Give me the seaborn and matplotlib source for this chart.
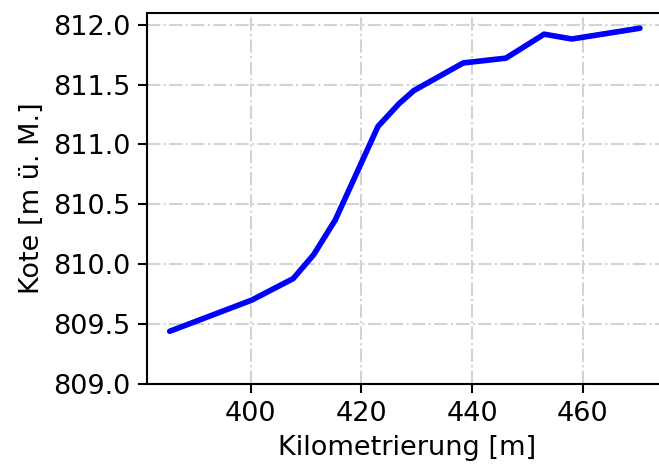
import matplotlib
matplotlib.use("Agg")
import matplotlib.pyplot as plt
import seaborn as sns
import pandas as pd

# Längsprofil: Kilometrierung und Kote
km = [385.4, 400.2, 407.7, 411.4, 415.3, 423.0, 426.8, 429.5, 438.4, 446.1, 453.0, 458.0, 470.3]
kote = [809.44, 809.70, 809.88, 810.08, 810.37, 811.15, 811.34, 811.45, 811.68, 811.72, 811.92, 811.88, 811.97]

df = pd.DataFrame({'km': km, 'kote': kote})

sns.set_style("ticks")
plt.rcParams['font.family'] = ['DejaVu Sans']
plt.rcParams.update({
    'text.color': 'black',
    'axes.labelcolor': 'black',
    'xtick.color': 'black',
    'ytick.color': 'black',
})

fig = plt.figure(figsize=(6.59 / 1.5, 4.66 / 1.5), dpi=150)
ax = fig.add_axes([0.2231, 0.176, 0.79, 0.796])

sns.lineplot(data=df, x='km', y='kote', ax=ax, color='blue', linewidth=2.7)

ax.set_xlim(381.3, 475.3)
ax.set_ylim(bottom=809.0)
ax.set_xticks([400, 420, 440, 460])
ax.set_yticks([809.0, 809.5, 810.0, 810.5, 811.0, 811.5, 812.0])
ax.set_yticklabels([f'{v:.1f}' for v in ax.get_yticks()])
ax.grid(True, linestyle='-.', color='lightgray', linewidth=1.0)

ax.set_xlabel('Kilometrierung [m]', fontsize=13)
ax.set_ylabel('Kote [m ü. M.]', fontsize=13)
ax.tick_params(labelsize=13, colors='black', width=1.0, length=4.5)
for s in ax.spines.values():
    s.set_color('black')
    s.set_linewidth(1.0)
# rechte Achse liegt ausserhalb des Bildausschnitts
ax.spines['right'].set_visible(False)

plt.savefig('out.png', dpi=150)
plt.close()
